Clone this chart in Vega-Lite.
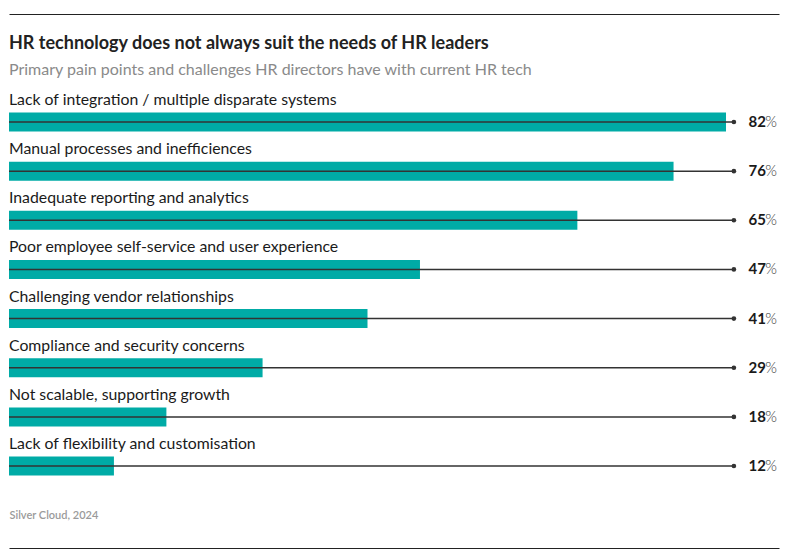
{
  "$schema": "https://vega.github.io/schema/vega-lite/v6.json",
  "width": 770,
  "height": 534,
  "padding": {"left": 8, "top": 14, "right": 12, "bottom": 12},
  "background": "white",
  "config": {"view": {"stroke": null}, "font": "Lato"},
  "title": {
    "text": "HR technology does not always suit the needs of HR leaders",
    "subtitle": "Primary pain points and challenges HR directors have with current HR tech",
    "anchor": "start",
    "frame": "group",
    "offset": -64,
    "font": "Lato",
    "fontSize": 18,
    "fontWeight": 700,
    "color": "#222222",
    "subtitleFont": "Lato",
    "subtitleFontSize": 16,
    "subtitleColor": "#8a8a8a",
    "subtitlePadding": 9
  },
  "data": {
    "values": [
      {"label": "Lack of integration / multiple disparate systems", "value": 82},
      {"label": "Manual processes and inefficiences", "value": 76},
      {"label": "Inadequate reporting and analytics", "value": 65},
      {"label": "Poor employee self-service and user experience", "value": 47},
      {"label": "Challenging vendor relationships", "value": 41},
      {"label": "Compliance and security concerns", "value": 29},
      {"label": "Not scalable, supporting growth", "value": 18},
      {"label": "Lack of flexibility and customisation", "value": 12}
    ]
  },
  "encoding": {
    "y": {
      "field": "label",
      "type": "nominal",
      "sort": null,
      "scale": {"range": [83.4, 476.6], "paddingInner": 0, "paddingOuter": 0},
      "axis": null
    }
  },
  "resolve": {"axis": {"x": "independent"}},
  "layer": [
    {
      "mark": {"type": "bar", "color": "#00aba6", "size": 19},
      "encoding": {
        "x": {
          "field": "value",
          "type": "quantitative",
          "scale": {"domain": [0, 88.06], "nice": false},
          "axis": {"orient": "top", "title": null, "labels": false, "ticks": false, "grid": false, "domain": true, "domainColor": "#222222", "domainWidth": 1}
        }
      }
    },
    {
      "mark": {"type": "rule", "color": "#333333", "strokeWidth": 1.5},
      "encoding": {
        "x": {
          "datum": 0,
          "type": "quantitative",
          "axis": {"orient": "bottom", "title": "Silver Cloud, 2024", "titleAnchor": "start", "titleAlign": "left", "titleX": 0, "titleY": -33, "titleBaseline": "middle", "titleFont": "Lato", "titleFontSize": 11, "titleFontWeight": 600, "titleColor": "#9a9a9a", "labels": false, "ticks": false, "grid": false, "domain": true, "domainColor": "#222222", "domainWidth": 1}
        },
        "x2": {"datum": 82.9}
      }
    },
    {
      "mark": {"type": "point", "filled": true, "color": "#333333", "size": 22, "opacity": 1},
      "encoding": {
        "x": {"datum": 82.9, "type": "quantitative", "axis": null}
      }
    },
    {
      "mark": {"type": "text", "align": "left", "baseline": "middle", "dy": -22, "fontSize": 15.8, "color": "#1a1a1a", "font": "Lato"},
      "encoding": {
        "x": {"datum": 0, "type": "quantitative", "axis": null},
        "text": {"field": "label"}
      }
    },
    {
      "mark": {"type": "text", "align": "right", "baseline": "middle", "dx": 32, "fontSize": 15, "fontWeight": 700, "color": "#1a1a1a", "font": "Lato"},
      "encoding": {
        "x": {"datum": 82.9, "type": "quantitative", "axis": null},
        "text": {"field": "value"}
      }
    },
    {
      "mark": {"type": "text", "align": "right", "baseline": "middle", "dx": 43, "fontSize": 15, "fontWeight": 300, "color": "#333333", "font": "Lato", "text": "%"},
      "encoding": {
        "x": {"datum": 82.9, "type": "quantitative", "axis": null}
      }
    }
  ]
}
